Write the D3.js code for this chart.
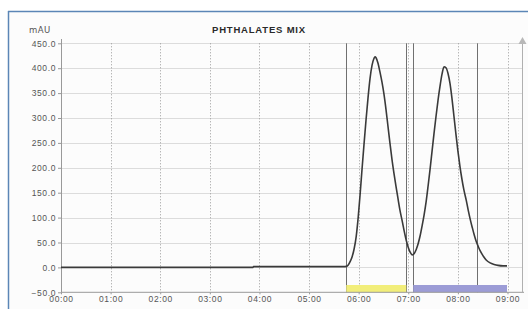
<!DOCTYPE html>
<html>
<head>
<meta charset="utf-8">
<script src="https://cdn.jsdelivr.net/npm/d3@7"></script>
<style>
  body { margin: 0; background: #fff; }
  svg { display: block; font-family: "DejaVu Sans", sans-serif; }
</style>
</head>
<body>
<script>
// chromatogram trace, time in minutes, signal in mAU
const times = [0, 3.87, 3.88, 5.70, 5.75, 5.79, 5.83, 5.87, 5.91, 5.95, 5.99, 6.03, 6.07, 6.11, 6.15,
  6.19, 6.23, 6.27, 6.31, 6.33, 6.35, 6.39, 6.43, 6.47, 6.51, 6.55, 6.59, 6.63, 6.67, 6.71,
  6.75, 6.79, 6.83, 6.88, 6.92, 6.96, 7.00, 7.04, 7.08, 7.12, 7.16, 7.20, 7.24, 7.28, 7.32,
  7.36, 7.40, 7.44, 7.48, 7.52, 7.56, 7.60, 7.64, 7.68, 7.72, 7.76, 7.80, 7.84, 7.88, 7.92,
  7.96, 8.00, 8.04, 8.08, 8.12, 8.17, 8.21, 8.25, 8.29, 8.33, 8.37, 8.41, 8.45, 8.51, 8.57,
  8.65, 8.73, 8.81, 8.91, 8.99];
const absorbance = [0, 0, 1.5, 1.5, 2, 5, 12, 22, 38, 62, 100, 148, 200, 250, 298,
  342, 380, 406, 420, 423, 421, 410, 392, 372, 348, 318, 284, 250, 218, 190,
  164, 140, 116, 92, 72, 54, 40, 30, 25, 28, 36, 48, 64, 84, 106,
  132, 164, 198, 234, 270, 304, 336, 364, 388, 403, 401, 390, 370, 340, 304,
  268, 234, 204, 178, 156, 134, 114, 96, 80, 65, 52, 42, 33, 23, 15,
  9, 6, 4, 3, 3];

const yTicks = [-50, 0, 50, 100, 150, 200, 250, 300, 350, 400, 450];
const xTicks = [0, 1, 2, 3, 4, 5, 6, 7, 8, 9];
const xTickLabels = ["00:00", "01:00", "02:00", "03:00", "04:00", "05:00", "06:00", "07:00", "08:00", "09:00"];

// integration marks: peak start / end
const peakMarks = [5.75, 6.96, 7.10, 8.39];
const peakStarts = [5.75, 7.10];
const peakEnds = [6.96, 8.99];
const peakColors = ["#f2ee7a", "#9c9cd6"];

const W = 528, H = 309;
const svg = d3.select("body").append("svg").attr("width", W).attr("height", H);

// frame
svg.append("rect").attr("x", 8).attr("y", 11).attr("width", W - 8).attr("height", H - 11)
  .attr("fill", "#fcfcfc");
svg.append("line").attr("x1", 8).attr("x2", W).attr("y1", 11.5).attr("y2", 11.5)
  .attr("stroke", "#5b86b6").attr("stroke-width", 1.5);
svg.append("line").attr("x1", 8.5).attr("x2", 8.5).attr("y1", 11).attr("y2", H)
  .attr("stroke", "#5b86b6").attr("stroke-width", 1.5);

const x = d3.scaleLinear().domain([0, 9]).range([61, 507.5]);
const y = d3.scaleLinear().domain([-50, 450]).range([292.3, 43.3]);
const xRight = 522;

// horizontal grid
svg.append("g").selectAll("line").data(yTicks.filter(d => d > -50)).join("line")
  .attr("x1", x(0)).attr("x2", xRight)
  .attr("y1", d => Math.round(y(d)) + 0.5).attr("y2", d => Math.round(y(d)) + 0.5)
  .attr("stroke", "#dcdcdc");

// vertical grid (dotted)
svg.append("g").selectAll("line").data(xTicks.slice(1)).join("line")
  .attr("x1", d => Math.round(x(d)) + 0.5).attr("x2", d => Math.round(x(d)) + 0.5)
  .attr("y1", y(450)).attr("y2", y(-50))
  .attr("stroke", "#9a9a9a").attr("stroke-dasharray", "1,2");

// peak boundary lines
svg.append("g").selectAll("line").data(peakMarks).join("line")
  .attr("x1", d => Math.round(x(d)) + 0.5).attr("x2", d => Math.round(x(d)) + 0.5)
  .attr("y1", y(450)).attr("y2", y(-50))
  .attr("stroke", "#707070").attr("stroke-width", 1);

// peak bands at the bottom
svg.append("g").selectAll("rect").data(peakStarts).join("rect")
  .attr("x", d => x(d)).attr("width", (d, i) => x(peakEnds[i]) - x(d))
  .attr("y", 285).attr("height", y(-50) - 285)
  .attr("fill", (d, i) => peakColors[i]);

// axes
const axisColor = "#999";
svg.append("line").attr("x1", x(0) + 0.5).attr("x2", x(0) + 0.5).attr("y1", 39).attr("y2", y(-50))
  .attr("stroke", axisColor);
svg.append("line").attr("x1", x(0)).attr("x2", xRight + 2).attr("y1", y(-50)).attr("y2", y(-50))
  .attr("stroke", axisColor);
svg.append("line").attr("x1", xRight + 0.5).attr("x2", xRight + 0.5).attr("y1", 42).attr("y2", y(-50))
  .attr("stroke", "#b0b0b0");
svg.append("path").attr("d", `M${xRight - 3.5},44 L${xRight + 0.5},37 L${xRight + 4.5},44 Z`)
  .attr("fill", "#b8b8b8");

const yAxis = svg.append("g").attr("transform", `translate(${x(0)},0)`)
  .call(d3.axisLeft(y).tickValues(yTicks).tickFormat(d3.format(".1f")).tickSize(3).tickPadding(2));
yAxis.select(".domain").remove();
yAxis.selectAll(".tick line").attr("stroke", axisColor);
yAxis.selectAll("text").attr("fill", "#555").attr("font-size", 8.5).attr("letter-spacing", 0.6);

const xAxis = svg.append("g").attr("transform", `translate(0,${y(-50)})`)
  .call(d3.axisBottom(x).tickValues(xTicks).tickFormat((d, i) => xTickLabels[i]).tickSize(2).tickPadding(2));
xAxis.select(".domain").remove();
xAxis.selectAll(".tick line").attr("stroke", axisColor);
xAxis.selectAll("text").attr("fill", "#555").attr("font-size", 8.5).attr("letter-spacing", 0.6);

// trace
const line = d3.line().x((d, i) => x(times[i])).y(d => y(d)).curve(d3.curveMonotoneX);
svg.append("path").datum(absorbance).attr("d", line)
  .attr("fill", "none").attr("stroke", "#3a3a3a").attr("stroke-width", 1.6);

// labels
svg.append("text").attr("x", 29).attr("y", 33).text("mAU")
  .attr("font-size", 8.5).attr("fill", "#555").attr("letter-spacing", 0.4);
svg.append("text").attr("x", 259).attr("y", 33).attr("text-anchor", "middle").text("PHTHALATES MIX")
  .attr("font-size", 9.5).attr("font-weight", "bold").attr("fill", "#2a2a2a")
  .attr("font-family", "Liberation Sans, Arial, sans-serif").attr("letter-spacing", 0.8);
</script>
</body>
</html>
